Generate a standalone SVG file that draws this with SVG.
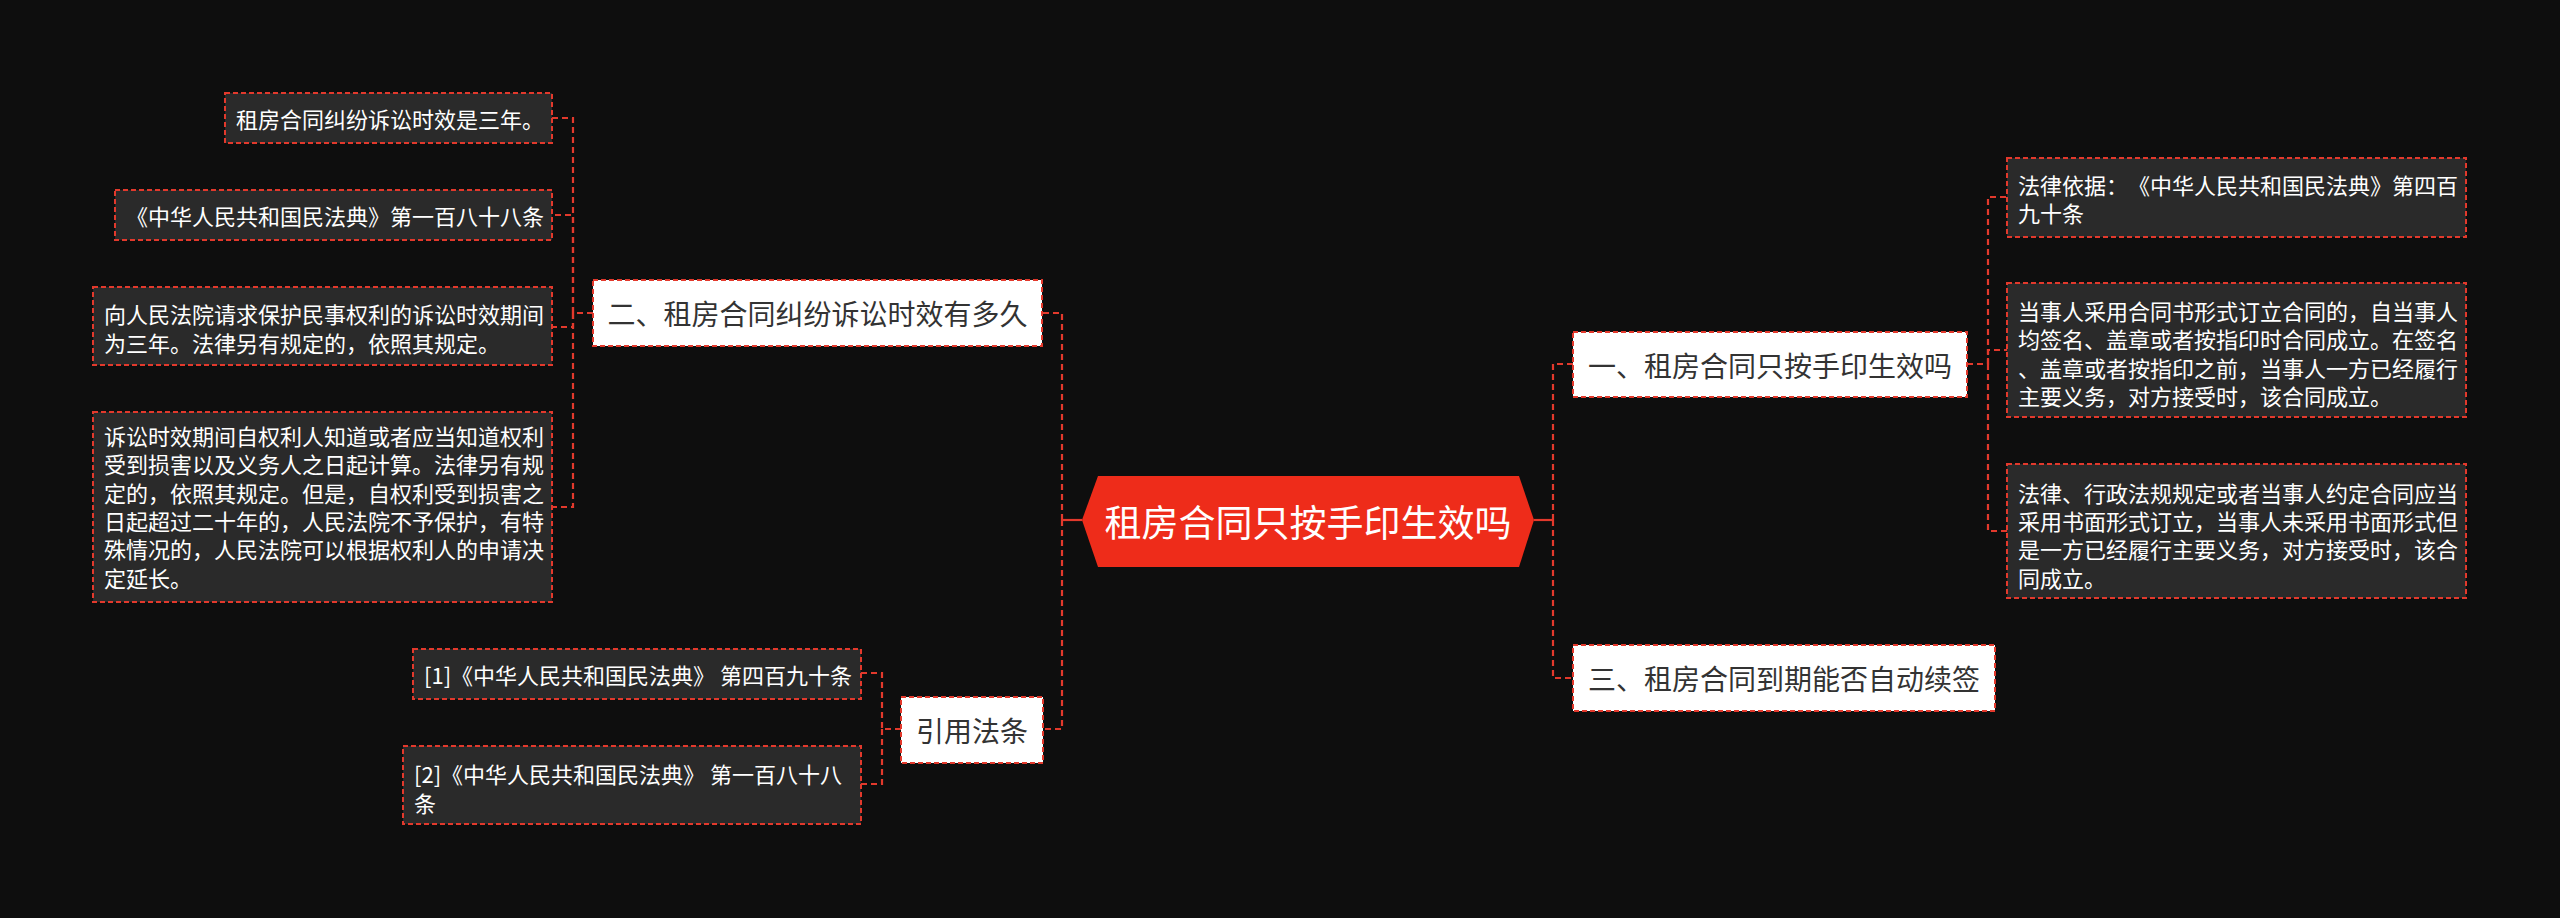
<svg xmlns="http://www.w3.org/2000/svg" width="2560" height="918" viewBox="0 0 2560 918">
<style>
.bg{fill:#0e0e0e}
text{text-spacing-trim:space-all}
.leaf rect{fill:#2a2a2a;stroke:#e2392c;stroke-width:2;stroke-dasharray:5 3}
.leaf text{fill:#ffffff;font-family:"Noto Sans CJK SC","Noto Sans",sans-serif;font-size:22px;dominant-baseline:central}
.topic rect{fill:#ffffff;stroke:#e2392c;stroke-width:2;stroke-dasharray:5 3}
.topic text{fill:#333333;font-family:"Noto Sans CJK SC","Noto Sans",sans-serif;font-size:28px;text-anchor:middle;dominant-baseline:central}
.root polygon{fill:#ee2c1a}
.root text{fill:#ffffff;font-family:"Noto Sans CJK SC","Noto Sans",sans-serif;font-size:37px;text-anchor:middle;dominant-baseline:central}
.conn path{fill:none;stroke:#e2392c;stroke-width:2.2;stroke-dasharray:6 4}
.conn line{stroke:#e2392c;stroke-width:2.2}
</style>
<rect class="bg" x="0" y="0" width="2560" height="918"/>
<g id="connectors" class="conn">
<line x1="1082" y1="520" x2="1063" y2="520"/>
<line x1="1534" y1="520" x2="1553" y2="520"/>
<path d="M1062 520 V313 H1042"/>
<path d="M1062 520 V729 H1043"/>
<path d="M1553 520 V364 H1573"/>
<path d="M1553 520 V678 H1573"/>
<path d="M593 313 H573 V118 H552"/>
<path d="M573 313 V215 H552"/>
<path d="M573 313 V327 H552"/>
<path d="M573 313 V507 H552"/>
<path d="M1967 364 H1988 V197 H2007"/>
<path d="M1988 364 V350 H2007"/>
<path d="M1988 364 V531 H2007"/>
<path d="M901 729 H882 V673 H861"/>
<path d="M882 729 V784 H861"/>
</g>
<g id="root" class="root">
<polygon points="1082,520 1098,476 1519,476 1534,520 1519,567 1098,567"/>
<text x="1308" y="521">租房合同只按手印生效吗</text>
</g>
<g id="topic2" class="topic">
<rect x="593" y="280" width="449" height="66"/>
<text x="817.5" y="313">二、租房合同纠纷诉讼时效有多久</text>
</g>
<g id="topic1" class="topic">
<rect x="1573" y="332" width="394" height="65"/>
<text x="1770" y="364.5">一、租房合同只按手印生效吗</text>
</g>
<g id="topic3" class="topic">
<rect x="1573" y="645" width="422" height="66"/>
<text x="1784" y="678">三、租房合同到期能否自动续签</text>
</g>
<g id="topic4" class="topic">
<rect x="901" y="697" width="142" height="66"/>
<text x="972" y="730">引用法条</text>
</g>
<g id="leaf2a" class="leaf">
<rect x="225" y="93" width="327" height="50"/>
<text x="236" y="118">租房合同纠纷诉讼时效是三年。</text>
</g>
<g id="leaf2b" class="leaf">
<rect x="115" y="190" width="437" height="50"/>
<text x="126" y="215">《中华人民共和国民法典》第一百八十八条</text>
</g>
<g id="leaf2c" class="leaf">
<rect x="93" y="287" width="459" height="78"/>
<text x="104" y="313">向人民法院请求保护民事权利的诉讼时效期间</text>
<text x="104" y="341.5">为三年。法律另有规定的，依照其规定。</text>
</g>
<g id="leaf2d" class="leaf">
<rect x="93" y="412" width="459" height="190"/>
<text x="104" y="435">诉讼时效期间自权利人知道或者应当知道权利</text>
<text x="104" y="463.3">受到损害以及义务人之日起计算。法律另有规</text>
<text x="104" y="491.7">定的，依照其规定。但是，自权利受到损害之</text>
<text x="104" y="520">日起超过二十年的，人民法院不予保护，有特</text>
<text x="104" y="548.3">殊情况的，人民法院可以根据权利人的申请决</text>
<text x="104" y="576.7">定延长。</text>
</g>
<g id="leaf1a" class="leaf">
<rect x="2007" y="158" width="459" height="79"/>
<text x="2018" y="184">法律依据：《中华人民共和国民法典》第四百</text>
<text x="2018" y="212">九十条</text>
</g>
<g id="leaf1b" class="leaf">
<rect x="2007" y="283" width="459" height="134"/>
<text x="2018" y="310">当事人采用合同书形式订立合同的，自当事人</text>
<text x="2018" y="338.3">均签名、盖章或者按指印时合同成立。在签名</text>
<text x="2018" y="366.7">、盖章或者按指印之前，当事人一方已经履行</text>
<text x="2018" y="395">主要义务，对方接受时，该合同成立。</text>
</g>
<g id="leaf1c" class="leaf">
<rect x="2007" y="464" width="459" height="134"/>
<text x="2018" y="491.7">法律、行政法规规定或者当事人约定合同应当</text>
<text x="2018" y="520">采用书面形式订立，当事人未采用书面形式但</text>
<text x="2018" y="548.3">是一方已经履行主要义务，对方接受时，该合</text>
<text x="2018" y="576.7">同成立。</text>
</g>
<g id="leaf4a" class="leaf">
<rect x="413" y="649" width="448" height="50"/>
<text x="424" y="674">[1]《中华人民共和国民法典》 第四百九十条</text>
</g>
<g id="leaf4b" class="leaf">
<rect x="403" y="746" width="458" height="78"/>
<text x="414" y="773.3">[2]《中华人民共和国民法典》 第一百八十八</text>
<text x="414" y="801.7">条</text>
</g>
</svg>
